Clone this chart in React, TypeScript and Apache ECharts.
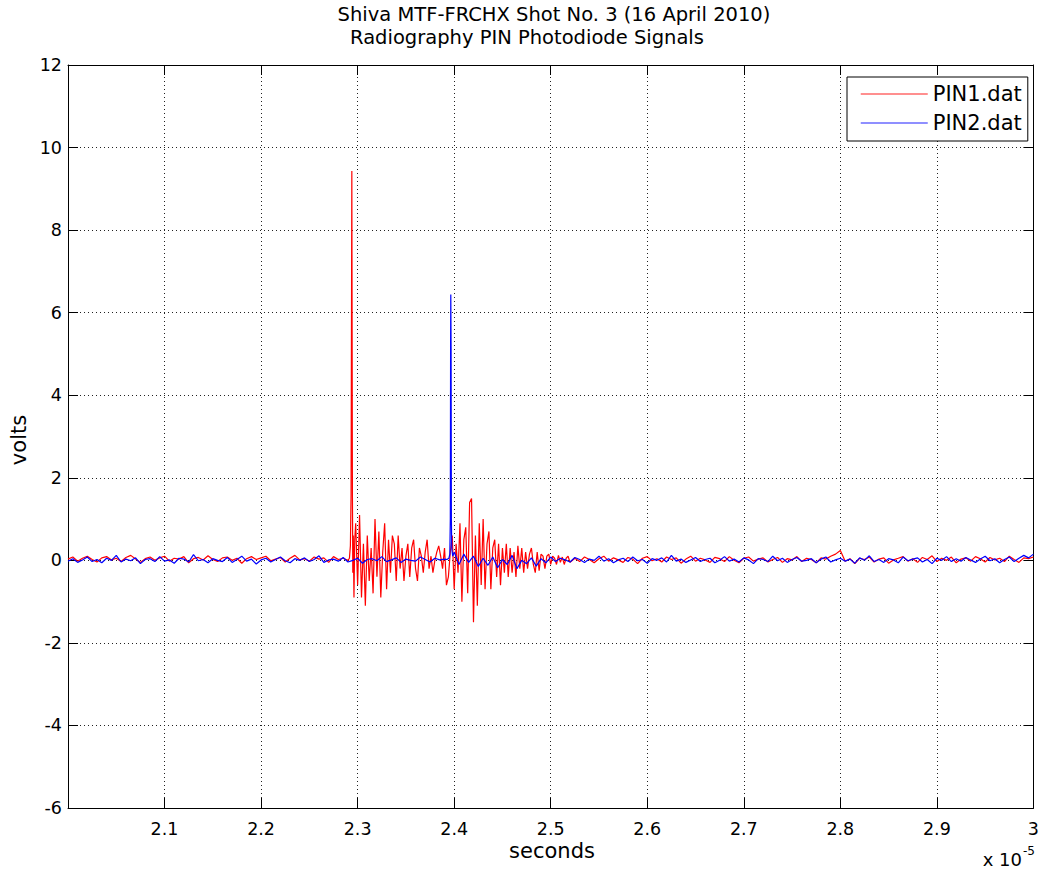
import React, { useEffect, useRef } from 'react';
import * as echarts from 'echarts';

// Time axis in units of 1e-5 s
const TITLE_LINE_1 = 'Shiva MTF-FRCHX Shot No. 3 (16 April 2010)';
const TITLE_LINE_2 = 'Radiography PIN Photodiode Signals';
const SERIES_NAMES = ['PIN1.dat', 'PIN2.dat'];
const X_LABEL = 'seconds';
const Y_LABEL = 'volts';

// PIN1 (red) — baseline before the pulse, sampled every 0.005 from 2.000
const RED_PRE_START = 2.0;
const RED_PRE_STEP = 0.005;
const RED_PRE = [
  0.03, 0.08, -0.02, 0.05, 0.10, 0.02, -0.04, 0.06, 0.09, 0.01,
  0.05, -0.03, 0.07, 0.12, 0.03, -0.05, 0.04, 0.08, 0.00, 0.06,
  0.10, -0.02, 0.05, 0.03, 0.09, -0.06, 0.04, 0.07, 0.01, 0.11,
  0.02, -0.03, 0.06, 0.08, 0.00, 0.05, -0.07, 0.04, 0.09, 0.02,
  0.06, 0.10, -0.01, 0.03, 0.07, -0.04, 0.05, 0.12, 0.01, 0.04,
  -0.02, 0.08, 0.03, 0.06, -0.05, 0.09, 0.02, 0.05, 0.00,
];
// PIN1 main spike [time, volts]
const RED_SPIKE = [
  [2.2915, 0.05], [2.2925, 0.35], [2.2932, 1.57], [2.2938, 1.57], [2.294, 9.43],
  [2.2943, 5.45], [2.2946, 1.6], [2.295, -0.3], [2.2955, 0.6], [2.2962, -0.9], [2.297, 0.5],
];
// PIN1 ringing after the spike, sampled every 0.002 from 2.298
const RED_BURST_START = 2.298;
const RED_BURST_STEP = 0.002;
const RED_BURST = [
  0.9, -0.6, 1.1, -0.9, 0.4, -1.1, 0.6, -0.5, 0.3, -0.8,
  1.0, -0.4, 0.7, -0.9, 0.2, 0.9, -0.7, 0.5, -0.3, 0.6,
  0.4, -0.5, 0.6, -0.2, 0.3, -0.5, 0.1, 0.4, -0.4, 0.3,
  0.5, -0.2, -0.5, 0.3, 0.1, -0.3, 0.2, 0.5, -0.2, 0.1,
  -0.3, 0.0, 0.2, 0.35, 0.1, -0.2, 0.3, -0.6, -0.4, 0.2,
  0.6, -0.7, 0.4, -0.3, 0.9, -1.0, 0.5, 0.8, -0.8, 1.4,
  1.5, -1.5, 0.6, -1.1, 0.9, -0.6, 1.0, -0.7, 0.4, 0.7,
  -0.7, 0.3, 0.5, -0.4, 0.4, -0.6, 0.3, -0.3, 0.4, -0.4,
  0.3, -0.3, 0.2, -0.4, 0.35, -0.2, 0.3, -0.3, 0.2, -0.2,
  0.15, 0.3, -0.1, -0.3, 0.2, -0.25, 0.15, 0.1, -0.2, 0.1,
  0.15, -0.1, 0.1, 0.05, -0.1, 0.12, -0.05, 0.08, -0.1, 0.05, 0.1, -0.05,
];
// PIN1 baseline after the pulse, sampled every 0.005 from 2.525
const RED_POST_START = 2.525;
const RED_POST_STEP = 0.005;
const RED_POST = [
  0.05, -0.03, 0.08, 0.02, -0.06, 0.04, 0.10, -0.02, 0.06, 0.01,
  -0.05, 0.07, 0.03, -0.08, 0.05, 0.09, -0.01, 0.04, -0.04, 0.08,
  0.02, 0.06, -0.07, 0.03, 0.10, -0.02, 0.05, 0.01, -0.05, 0.07,
  0.04, -0.03, 0.09, 0.00, -0.06, 0.05, 0.08, -0.02, 0.03, 0.06,
  -0.04, 0.02, 0.07, -0.05, 0.04, 0.01, 0.09, -0.03, 0.05, 0.02,
  -0.06, 0.06, 0.03, 0.10, 0.15, 0.24, -0.02, 0.04, -0.08, 0.05,
  0.02, 0.08, -0.04, 0.03, 0.06, -0.07, 0.01, 0.05, 0.09, -0.02,
  0.04, -0.05, 0.07, 0.02, 0.11, -0.03, 0.05, 0.00, 0.08, -0.06,
  0.03, 0.06, -0.02, 0.09, 0.04, -0.04, 0.07, 0.01, 0.05, -0.03,
  0.10, 0.02, -0.05, 0.06, 0.04, 0.08,
];

// PIN2 (blue) — baseline before the pulse, every 0.005 from 2.000
const BLUE_PRE_START = 2.0;
const BLUE_PRE_STEP = 0.005;
const BLUE_PRE = [
  -0.02, 0.04, -0.05, 0.01, 0.08, -0.03, 0.02, -0.06, 0.05, 0.00,
  0.12, -0.04, 0.03, -0.01, 0.06, -0.08, 0.02, 0.04, -0.03, 0.09,
  -0.02, 0.01, -0.07, 0.05, 0.03, -0.04, 0.14, -0.01, 0.02, -0.06,
  0.04, 0.00, -0.03, 0.07, -0.05, 0.02, 0.10, -0.02, 0.03, -0.09,
  0.01, 0.05, -0.04, 0.02, 0.08, -0.01, -0.06, 0.04, 0.00, 0.06,
  -0.03, 0.02, 0.11, -0.05, 0.01, 0.03, -0.02, 0.07, -0.04, 0.00,
  0.05, -0.07, 0.02, 0.04, -0.01, 0.09, -0.03, 0.01, 0.06, -0.05,
  0.03, 0.00, -0.02, 0.08, 0.02, -0.04, 0.05, 0.01, 0.03,
];
const BLUE_SPIKE = [
  [2.3925, 0.02], [2.3945, 0.05], [2.3955, 0.15], [2.396, 1.0], [2.3963, 5.17],
  [2.3965, 6.44], [2.3968, 5.17], [2.3971, 1.0], [2.3975, 0.3], [2.3985, 0.1],
];
const BLUE_POST_START = 2.4;
const BLUE_POST_STEP = 0.005;
const BLUE_POST = [
  0.20, -0.10, 0.15, -0.05, 0.10, -0.15, 0.05, -0.12, 0.08, -0.18,
  0.02, -0.10, 0.12, -0.20, 0.00, -0.08, 0.06, -0.14, 0.04, -0.06,
  0.08, -0.03, 0.05, 0.01, -0.04, 0.07, 0.02, -0.05, 0.03, 0.00,
  0.10, -0.02, 0.04, -0.06, 0.01, 0.05, -0.03, 0.08, -0.01, 0.02,
  -0.07, 0.04, 0.00, 0.06, -0.04, 0.12, -0.02, 0.03, -0.05, 0.01,
  0.07, -0.03, 0.02, 0.05, -0.06, 0.00, 0.09, -0.02, 0.03, -0.04,
  0.06, 0.01, -0.08, 0.04, 0.02, -0.03, 0.10, -0.01, 0.05, -0.05,
  0.02, 0.07, -0.02, 0.00, 0.04, -0.06, 0.03, 0.08, -0.04, 0.01,
  0.05, -0.02, 0.03, -0.07, 0.06, 0.00, 0.11, -0.03, 0.02, -0.05,
  0.04, 0.01, -0.06, 0.08, -0.01, 0.03, 0.06, -0.04, 0.02, -0.08,
  0.05, 0.00, 0.09, -0.03, 0.04, -0.02, 0.07, 0.01, -0.05, 0.03,
  0.10, -0.01, 0.04, -0.06, 0.02, 0.08, -0.03, 0.05, 0.12, 0.06,
  0.15,
];

const X_MIN = 2.0;
const X_MAX = 3.0;
const X_INTERVAL = 0.1;
const Y_MIN = -6;
const Y_MAX = 12;
const Y_INTERVAL = 2;

const FONT = 'DejaVu Sans';

function seg(start: number, step: number, vals: number[]): number[][] {
  return vals.map((v, i) => [Number((start + i * step).toFixed(4)), v]);
}

const redData = [
  ...seg(RED_PRE_START, RED_PRE_STEP, RED_PRE),
  ...RED_SPIKE,
  ...seg(RED_BURST_START, RED_BURST_STEP, RED_BURST),
  ...seg(RED_POST_START, RED_POST_STEP, RED_POST),
];
const blueData = [
  ...seg(BLUE_PRE_START, BLUE_PRE_STEP, BLUE_PRE),
  ...BLUE_SPIKE,
  ...seg(BLUE_POST_START, BLUE_POST_STEP, BLUE_POST),
];

export default function App() {
  const ref = useRef<HTMLDivElement>(null);
  useEffect(() => {
    if (!ref.current) return;
    const chart = echarts.init(ref.current, undefined, { renderer: 'svg' });
    const axisLine = { show: true, onZero: false, lineStyle: { color: '#000', width: 1 } };
    const tick = { show: true, inside: true, length: 10, lineStyle: { color: '#000', width: 1 } };
    const grid = { show: true, lineStyle: { color: '#222', width: 1, type: [1, 3] as any } };
    const xFmt = (v: number) => (v < X_MIN + 0.05 ? '' : String(Number(v.toFixed(1))));
    chart.setOption({
      animation: false,
      backgroundColor: '#fff',
      grid: { left: 68, right: 6, top: 65, bottom: 67, containLabel: false },
      xAxis: [
        {
          type: 'value', min: X_MIN, max: X_MAX, interval: X_INTERVAL, position: 'bottom',
          axisLine, axisTick: tick, splitLine: grid,
          axisLabel: { show: true, formatter: xFmt, color: '#000', fontSize: 17.5, fontFamily: FONT, margin: 12, showMinLabel: true, showMaxLabel: true },
        },
        {
          type: 'value', min: X_MIN, max: X_MAX, interval: X_INTERVAL, position: 'top',
          axisLine, axisTick: tick, splitLine: { show: false }, axisLabel: { show: false },
        },
      ],
      yAxis: [
        {
          type: 'value', min: Y_MIN, max: Y_MAX, interval: Y_INTERVAL, position: 'left',
          axisLine, axisTick: tick, splitLine: grid,
          axisLabel: { show: true, color: '#000', fontSize: 17.5, fontFamily: FONT, margin: 6 },
        },
        {
          type: 'value', min: Y_MIN, max: Y_MAX, interval: Y_INTERVAL, position: 'right',
          axisLine, axisTick: tick, splitLine: { show: false }, axisLabel: { show: false },
        },
      ],
      legend: {
        data: [
          { name: SERIES_NAMES[0], lineStyle: { color: '#ff6a6a', width: 1.5 } },
          { name: SERIES_NAMES[1], lineStyle: { color: '#6a6aff', width: 1.5 } },
        ],
        orient: 'vertical',
        left: 847,
        top: 77,
        padding: [6, 6, 7, 13],
        itemWidth: 67,
        itemHeight: 22,
        itemGap: 7,
        itemStyle: { opacity: 0, borderWidth: 0 },
        borderColor: '#000',
        borderWidth: 1,
        borderRadius: 0,
        backgroundColor: '#fff',
        textStyle: { fontSize: 21, fontFamily: FONT, color: '#000', lineHeight: 22 },
      },
      series: [
        {
          name: SERIES_NAMES[0], type: 'line', data: redData, xAxisIndex: 0, yAxisIndex: 0,
          symbol: 'none', showSymbol: false,
          lineStyle: { color: '#ff0000', width: 1.2 }, itemStyle: { color: '#ff0000' },
        },
        {
          name: SERIES_NAMES[1], type: 'line', data: blueData, xAxisIndex: 0, yAxisIndex: 0,
          symbol: 'none', showSymbol: false,
          lineStyle: { color: '#0000ff', width: 1.2 }, itemStyle: { color: '#0000ff' },
        },
      ],
      graphic: [
        { type: 'text', x: 554, y: 14, style: { text: TITLE_LINE_1, fill: '#000', fontSize: 19.5, fontFamily: FONT, align: 'center', verticalAlign: 'middle' } },
        { type: 'text', x: 527, y: 37, style: { text: TITLE_LINE_2, fill: '#000', fontSize: 19.5, fontFamily: FONT, align: 'center', verticalAlign: 'middle' } },
        { type: 'text', x: 552, y: 851, style: { text: X_LABEL, fill: '#000', fontSize: 21, fontFamily: FONT, align: 'center', verticalAlign: 'middle' } },
        { type: 'text', x: 19, y: 440, rotation: Math.PI / 2, style: { text: Y_LABEL, fill: '#000', fontSize: 21, fontFamily: FONT, align: 'center', verticalAlign: 'middle' } },
        { type: 'text', x: 1022, y: 859, style: { text: 'x 10', fill: '#000', fontSize: 18, fontFamily: FONT, align: 'right', verticalAlign: 'middle' } },
        { type: 'text', x: 1023, y: 851, style: { text: '-5', fill: '#000', fontSize: 12, fontFamily: FONT, align: 'left', verticalAlign: 'middle' } },
      ],
    });
    return () => chart.dispose();
  }, []);
  return <div ref={ref} style={{ position: 'absolute', left: 0, top: 0, width: 1042, height: 875 }} />;
}
